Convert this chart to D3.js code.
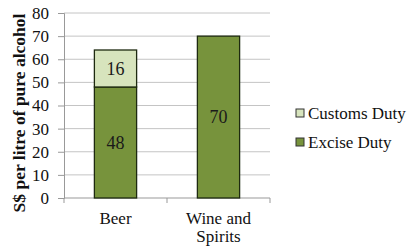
<!DOCTYPE html>
<html>
<head>
<meta charset="utf-8">
<script src="https://cdn.jsdelivr.net/npm/d3@7"></script>
<style>
body { margin: 0; background: #fff; }
</style>
</head>
<body>
<script>
const categories = ["Beer", "Wine and Spirits"]
const exciseDuty = [48, 70]
const customsDuty = [16, 0]
const seriesNames = ["Customs Duty", "Excise Duty"]
const yTicks = [0, 10, 20, 30, 40, 50, 60, 70, 80]

const w = 410, h = 247
const padLeft = 64, padRight = 270, padTop = 13, padBottom = 198
const exciseColor = "#77933c"
const customsColor = "#d7e4bd"
const edge = "#1e2a10"
const serifFont = "Liberation Serif"

const svg = d3.select("body").append("svg").attr("width", w).attr("height", h)
  .attr("font-family", serifFont)

const x = d3.scaleBand().domain(categories).range([padLeft, padRight]).paddingInner(0.59).paddingOuter(0.295)
const y = d3.scaleLinear().domain([0, 80]).range([padBottom, padTop])

// gridlines
svg.append("g").selectAll("line").data(yTicks.slice(1)).enter().append("line")
  .attr("x1", padLeft).attr("x2", padRight).attr("y1", d => y(d)).attr("y2", d => y(d))
  .attr("stroke", "#c4c4c4").attr("stroke-width", 1)

// y axis
const ya = svg.append("g").attr("transform", "translate(" + padLeft + ",0)")
  .call(d3.axisLeft(y).tickValues(yTicks).tickSize(6).tickPadding(9))
  .attr("font-family", serifFont).attr("font-size", 17)
ya.select(".domain").attr("stroke", "#999")
ya.selectAll(".tick line").attr("stroke", "#999")
ya.selectAll(".tick text").attr("fill", "#111")

// x axis
const xa = svg.append("g").attr("transform", "translate(0," + padBottom + ")")
xa.append("line").attr("x1", padLeft).attr("x2", padRight).attr("stroke", "#999")
xa.selectAll(".sep").data([padLeft, (padLeft + padRight) / 2, padRight]).enter().append("line")
  .attr("x1", d => d).attr("x2", d => d).attr("y1", 0).attr("y2", 5).attr("stroke", "#999")

const stacked = categories.map((c, i) => ({ c, ex: exciseDuty[i], cu: customsDuty[i] }))

svg.append("g").selectAll("rect").data(stacked).enter().append("rect")
  .attr("x", d => x(d.c)).attr("width", x.bandwidth())
  .attr("y", d => y(d.ex)).attr("height", d => y(0) - y(d.ex))
  .attr("fill", exciseColor).attr("stroke", edge).attr("stroke-width", 1.3)

svg.append("g").selectAll("rect").data(stacked.filter(d => d.cu > 0)).enter().append("rect")
  .attr("x", d => x(d.c)).attr("width", x.bandwidth())
  .attr("y", d => y(d.ex + d.cu)).attr("height", d => y(d.ex) - y(d.ex + d.cu))
  .attr("fill", customsColor).attr("stroke", edge).attr("stroke-width", 1.3)

// value labels
const labels = []
stacked.forEach(d => {
  labels.push({ c: d.c, v: d.ex, mid: d.ex / 2 })
  if (d.cu > 0) labels.push({ c: d.c, v: d.cu, mid: d.ex + d.cu / 2 })
})
svg.append("g").selectAll("text").data(labels).enter().append("text")
  .attr("x", d => x(d.c) + x.bandwidth() / 2).attr("y", d => y(d.mid))
  .attr("text-anchor", "middle").attr("dy", "0.35em")
  .attr("font-size", 18).attr("fill", "#1a1a1a").text(d => d.v)

// category labels
svg.append("g").selectAll("text").data(categories).enter().append("text")
  .attr("x", d => x(d) + x.bandwidth() / 2).attr("y", 224)
  .attr("text-anchor", "middle").attr("font-size", 17).attr("fill", "#111")
  .each(function (d) {
    const parts = d === "Wine and Spirits" ? ["Wine and", "Spirits"] : [d]
    parts.forEach((p, i) => d3.select(this).append("tspan")
      .attr("x", x(d) + x.bandwidth() / 2).attr("dy", i ? 18 : 0).text(p))
  })

// y title
svg.append("text").attr("transform", "translate(25,113) rotate(-90)")
  .attr("text-anchor", "middle").attr("font-size", 17.5).attr("font-weight", "bold")
  .attr("fill", "#111").text("S$ per litre of pure alcohol")

// legend
const legendColors = [customsColor, exciseColor]
const lg = svg.append("g").selectAll("g").data(seriesNames).enter().append("g")
  .attr("transform", (d, i) => "translate(296," + (113 + i * 29) + ")")
lg.append("rect").attr("x", 0).attr("y", -4).attr("width", 8).attr("height", 8)
  .attr("fill", (d, i) => legendColors[i]).attr("stroke", "#333").attr("stroke-width", 1)
lg.append("text").attr("x", 12).attr("dy", "0.35em").attr("font-size", 17)
  .attr("fill", "#111").text(d => d)
</script>
</body>
</html>
